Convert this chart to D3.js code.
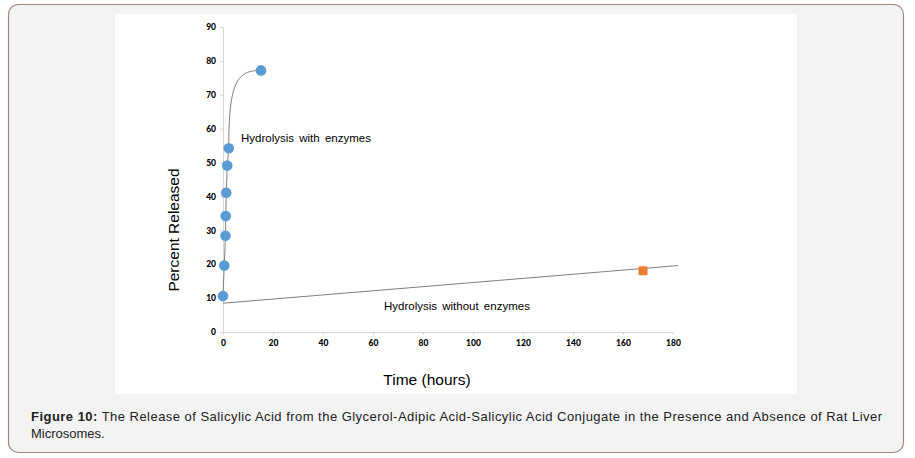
<!DOCTYPE html>
<html>
<head>
<meta charset="utf-8">
<script src="https://cdn.jsdelivr.net/npm/d3@7"></script>
<style>
  body { margin: 0; background: #fff; }
  svg { display: block; }
</style>
</head>
<body>
<script>
// hours / percent released
var withTime = [0, 0.5, 1, 1.1, 1.3, 1.7, 2.3, 15.2];
var withPct = [10.6, 19.6, 28.4, 34.2, 41.1, 49.1, 54.2, 77.2];
var withoutTime = [168];
var withoutPct = [18.1];
var trendTime = [0, 182];
var trendPct = [8.5, 19.6];
var xTicks = [0, 20, 40, 60, 80, 100, 120, 140, 160, 180];
var yTicks = [0, 10, 20, 30, 40, 50, 60, 70, 80, 90];

var width = 915, height = 458;

var svg = d3.select("body").append("svg").attr("width", width).attr("height", height);

// outer frame + white panel
svg.append("rect")
  .attr("x", 8.5).attr("y", 4.5).attr("width", 895).attr("height", 448)
  .attr("rx", 10).attr("ry", 10)
  .style("fill", "#f3f3f3").style("stroke", "#a98580").style("stroke-width", 1.2);
svg.append("rect")
  .attr("x", 115).attr("y", 14).attr("width", 682).attr("height", 380)
  .style("fill", "#fff");

var x = d3.scaleLinear().domain([0, 180]).range([223, 673]);
var y = d3.scaleLinear().domain([0, 90]).range([332, 27]);

// axes
var yAxis = svg.append("g").attr("transform", "translate(" + x(0) + ",0)")
  .call(d3.axisLeft(y).tickValues(yTicks).tickSize(3).tickPadding(4));
var xAxis = svg.append("g").attr("transform", "translate(0," + y(0) + ")")
  .call(d3.axisBottom(x).tickValues(xTicks).tickSize(3).tickPadding(5));
[xAxis, yAxis].forEach(function (a) {
  a.select(".domain").style("stroke", "#d6d6d6");
  a.selectAll(".tick line").style("stroke", "#d6d6d6");
  a.selectAll("text")
    .style("font-family", "Lato, sans-serif")
    .style("font-weight", "900")
    .style("font-size", "8.5px")
    .style("fill", "#000");
});

// trend line without enzymes
var line = d3.line()
  .x(function (d) { return x(d[0]); })
  .y(function (d) { return y(d[1]); });
svg.append("path")
  .attr("d", line(d3.zip(trendTime, trendPct)))
  .style("fill", "none").style("stroke", "#7f7f7f").style("stroke-width", 1);

// smooth curve with enzymes: straight through the early points, then a bend to the last one
var pts = d3.zip(withTime, withPct).map(function (d) { return [x(d[0]), y(d[1])]; });
var p = d3.path();
p.moveTo(pts[0][0], pts[0][1]);
for (var i = 1; i < pts.length - 1; i++) p.lineTo(pts[i][0], pts[i][1]);
var a = pts[pts.length - 2], b = pts[pts.length - 1];
p.bezierCurveTo(a[0], a[1] + (b[1] - a[1]) * 0.85, a[0] + (b[0] - a[0]) * 0.25, b[1], b[0], b[1]);
svg.append("path")
  .attr("d", p.toString())
  .style("fill", "none").style("stroke", "#7f7f7f").style("stroke-width", 1);

// markers
svg.selectAll("circle.with")
  .data(d3.zip(withTime, withPct))
  .enter().append("circle")
  .attr("class", "with")
  .attr("cx", function (d) { return x(d[0]); })
  .attr("cy", function (d) { return y(d[1]); })
  .attr("r", 5.3)
  .style("fill", "#5b9bd5");

svg.selectAll("rect.without")
  .data(d3.zip(withoutTime, withoutPct))
  .enter().append("rect")
  .attr("class", "without")
  .attr("x", function (d) { return x(d[0]) - 4.5; })
  .attr("y", function (d) { return y(d[1]) - 4.5; })
  .attr("width", 9).attr("height", 9).attr("rx", 1.5)
  .style("fill", "#ed7d31");

// labels
var labelFont = "'Liberation Sans', Arial, sans-serif";
svg.append("text").attr("x", 241).attr("y", 142)
  .style("font-family", labelFont).style("font-size", "11.5px").style("word-spacing", "2px")
  .text("Hydrolysis with enzymes");
svg.append("text").attr("x", 384).attr("y", 310)
  .style("font-family", labelFont).style("font-size", "11.5px").style("word-spacing", "2px")
  .text("Hydrolysis without enzymes");

svg.append("text")
  .attr("transform", "translate(179,230) rotate(-90)")
  .attr("text-anchor", "middle")
  .style("font-family", labelFont).style("font-size", "15.5px")
  .text("Percent Released");
svg.append("text")
  .attr("x", 427).attr("y", 385)
  .attr("text-anchor", "middle")
  .style("font-family", labelFont).style("font-size", "15.5px")
  .text("Time (hours)");

// caption
var cap = svg.append("text").attr("x", 31).attr("y", 421)
  .attr("textLength", 851).attr("lengthAdjust", "spacing")
  .style("font-family", labelFont).style("font-size", "13px").style("fill", "#222");
cap.append("tspan").style("font-weight", "bold").text("Figure 10:");
cap.append("tspan").text(" The Release of Salicylic Acid from the Glycerol-Adipic Acid-Salicylic Acid Conjugate in the Presence and Absence of Rat Liver");
svg.append("text").attr("x", 31).attr("y", 438)
  .style("font-family", labelFont).style("font-size", "13px").style("fill", "#222")
  .text("Microsomes.");
</script>
</body>
</html>
